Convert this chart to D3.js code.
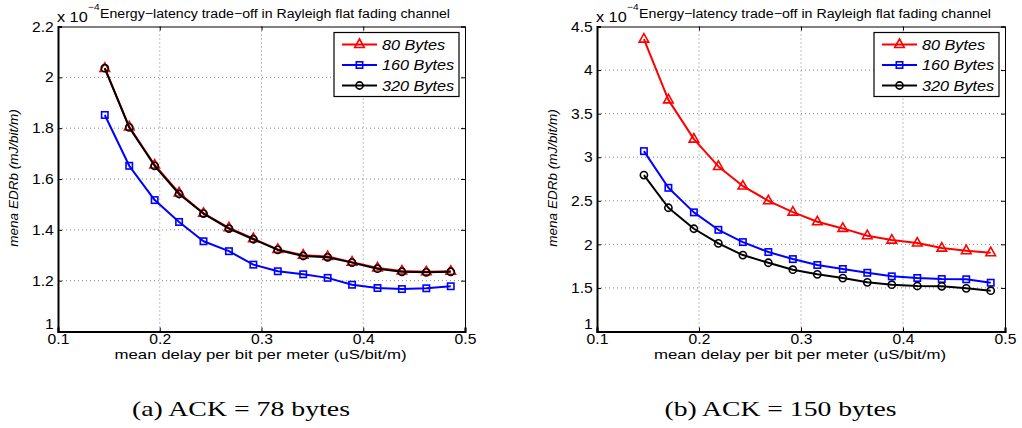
<!DOCTYPE html>
<html>
<head>
<meta charset="utf-8">
<script src="https://cdn.jsdelivr.net/npm/d3@7"></script>
<style>
  html, body { margin: 0; padding: 0; background: #fff; }
  svg { display: block; }
</style>
</head>
<body>
<svg id="chart" width="1022" height="428"></svg>
<script>
// ---------------- data ----------------
const xValues = [0.146, 0.170, 0.195, 0.219, 0.243, 0.268, 0.292, 0.316, 0.341, 0.365, 0.389, 0.414, 0.438, 0.462, 0.486];

const seriesNames = ["80 Bytes", "160 Bytes", "320 Bytes"];
const seriesColors = ["#ff0000", "#0000ff", "#000000"];
const seriesMarkers = ["triangle", "square", "circle"];

// panel (a): ACK = 78 bytes  (values x 1e-4)
const leftRed   = [2.035, 1.805, 1.655, 1.545, 1.465, 1.408, 1.365, 1.323, 1.300, 1.295, 1.273, 1.250, 1.238, 1.235, 1.237];
const leftBlue  = [1.852, 1.652, 1.517, 1.431, 1.355, 1.316, 1.263, 1.237, 1.225, 1.211, 1.184, 1.171, 1.167, 1.170, 1.178];
const leftBlack = [2.036, 1.803, 1.652, 1.541, 1.464, 1.405, 1.363, 1.321, 1.297, 1.292, 1.271, 1.247, 1.235, 1.233, 1.235];

// panel (b): ACK = 150 bytes  (values x 1e-4)
const rightRed   = [4.355, 3.658, 3.208, 2.894, 2.669, 2.500, 2.370, 2.259, 2.183, 2.099, 2.049, 2.015, 1.957, 1.927, 1.904];
const rightBlue  = [3.070, 2.649, 2.367, 2.167, 2.026, 1.912, 1.831, 1.763, 1.717, 1.674, 1.633, 1.614, 1.602, 1.599, 1.560];
const rightBlack = [2.795, 2.420, 2.179, 2.011, 1.877, 1.789, 1.709, 1.656, 1.613, 1.564, 1.537, 1.522, 1.518, 1.495, 1.468];

const xTicks = [0.1, 0.2, 0.3, 0.4, 0.5];
const xTickLabels = ["0.1", "0.2", "0.3", "0.4", "0.5"];
const leftYTicks = [1, 1.2, 1.4, 1.6, 1.8, 2, 2.2];
const leftYTickLabels = ["1", "1.2", "1.4", "1.6", "1.8", "2", "2.2"];
const rightYTicks = [1, 1.5, 2, 2.5, 3, 3.5, 4, 4.5];
const rightYTickLabels = ["1", "1.5", "2", "2.5", "3", "3.5", "4", "4.5"];

const titleText = "Energy\u2212latency trade\u2212off in Rayleigh flat fading channel";
const xLabelText = "mean delay per bit per meter (uS/bit/m)";
const yLabelText = "mena EDRb (mJ/bit/m)";
const exponentBase = "x 10";
const exponentText = "\u22124";
const captions = ["(a) ACK = 78 bytes", "(b) ACK = 150 bytes"];

// ---------------- drawing ----------------
const svg = d3.select("#chart");
const SANS = "Liberation Sans, Arial, Helvetica, sans-serif";
const SERIF = "Liberation Serif, DejaVu Serif, serif";
const SX = 1.12; // horizontal stretch of the original sans text

function sansText(parent, x, y, str, size, opts = {}) {
  const t = parent.append("g").attr("transform", `translate(${x},${y}) scale(${SX},1)`)
    .append("text").attr("x", 0).attr("y", 0)
    .attr("font-family", SANS).attr("font-size", size).attr("fill", "#000")
    .attr("text-anchor", opts.anchor || "start")
    .attr("font-style", opts.italic ? "italic" : "normal")
    .text(str);
  if (opts.dy) t.attr("dy", opts.dy);
  return t;
}

function drawPanel(opts) {
  const { left, right, top, bottom, yDomain, yTicks, yTickLabels, series, caption, titleLen, captionLen } = opts;
  const x = d3.scaleLinear().domain([0.1, 0.5]).range([left, right]);
  const y = d3.scaleLinear().domain(yDomain).range([bottom, top]);
  const g = svg.append("g");

  // grid
  const grid = g.append("g");
  grid.selectAll("line.gx").data(xTicks.filter(t => t > 0.1 && t < 0.5)).join("line")
    .attr("x1", d => x(d)).attr("x2", d => x(d)).attr("y1", top).attr("y2", bottom)
    .attr("stroke", "#666").attr("stroke-width", 0.8).attr("stroke-dasharray", "1,3");
  grid.selectAll("line.gy").data(yTicks.filter(t => t > yDomain[0] && t < yDomain[1])).join("line")
    .attr("x1", left).attr("x2", right).attr("y1", d => y(d)).attr("y2", d => y(d))
    .attr("stroke", "#666").attr("stroke-width", 0.8).attr("stroke-dasharray", "1,3");

  // axes (inward ticks)
  const axB = d3.axisBottom(x).tickValues(xTicks).tickSize(-4).tickFormat((d, i) => xTickLabels[i]).tickPadding(2);
  const axT = d3.axisTop(x).tickValues(xTicks).tickSize(-4).tickFormat("");
  const axL = d3.axisLeft(y).tickValues(yTicks).tickSize(-4).tickFormat((d, i) => yTickLabels[i]).tickPadding(4);
  const axR = d3.axisRight(y).tickValues(yTicks).tickSize(-4).tickFormat("");

  const gb = g.append("g").attr("transform", `translate(0,${bottom})`).call(axB);
  const gt = g.append("g").attr("transform", `translate(0,${top})`).call(axT);
  const gl = g.append("g").attr("transform", `translate(${left},0)`).call(axL);
  const gr = g.append("g").attr("transform", `translate(${right},0)`).call(axR);
  [gb, gt, gl, gr].forEach(a => {
    a.select(".domain").attr("stroke", "#000").attr("stroke-width", 1);
    a.selectAll(".tick line").attr("stroke", "#000").attr("stroke-width", 1);
    a.selectAll("text").attr("font-family", SANS).attr("font-size", 14.5).attr("fill", "#000")
      .attr("transform", "scale(1.08,1)");
  });
  gb.select(".domain").attr("stroke-width", 2.2);
  gl.select(".domain").attr("stroke-width", 2);
  // the bottom "1" label in the original sits slightly above the axis
  gl.selectAll(".tick").filter(d => d === yDomain[0]).select("text").attr("dy", "-0.2em");

  // series
  series.forEach((s, si) => {
    const line = d3.line().x((d, i) => x(xValues[i])).y(d => y(d));
    g.append("path").datum(s.values).attr("d", line)
      .attr("fill", "none").attr("stroke", seriesColors[si]).attr("stroke-width", 2)
      .attr("stroke-linejoin", "round");
    drawMarkers(g, s.values.map((v, i) => [x(xValues[i]), y(v)]), si);
  });

  // legend
  const lg = g.append("g");
  const lx = right - 131, ly = top + 6, lw = 125, lh = 64;
  lg.append("rect").attr("x", lx).attr("y", ly).attr("width", lw).attr("height", lh)
    .attr("fill", "#fff").attr("stroke", "#000").attr("stroke-width", 1.2);
  seriesNames.forEach((name, si) => {
    const ry = ly + 12 + si * 20.5;
    lg.append("line").attr("x1", lx + 8).attr("x2", lx + 43).attr("y1", ry).attr("y2", ry)
      .attr("stroke", seriesColors[si]).attr("stroke-width", 2);
    drawMarkers(lg, [[lx + 25.5, ry]], si);
    sansText(lg, lx + 48, ry, name, 14.5, { italic: true, dy: "0.36em" });
  });

  // exponent & title
  sansText(g, left - 1, 21.5, exponentBase, 14.5);
  sansText(g, left + 30, 9.5, exponentText, 9);
  g.append("text").attr("x", left + 42).attr("y", 18).attr("font-family", SANS).attr("font-size", 12.5)
    .attr("fill", "#000").attr("textLength", titleLen).attr("lengthAdjust", "spacingAndGlyphs")
    .text(titleText);

  // x label
  g.append("text").attr("x", (left + right) / 2 - 1).attr("y", 359).attr("text-anchor", "middle")
    .attr("font-family", SANS).attr("font-size", 13.5).attr("fill", "#000")
    .attr("textLength", 292).attr("lengthAdjust", "spacingAndGlyphs").text(xLabelText);

  // y label
  g.append("text").attr("transform", `translate(${left - 40},${(top + bottom) / 2 - 1}) rotate(-90)`)
    .attr("text-anchor", "middle").attr("font-family", SANS).attr("font-size", 13.5)
    .attr("font-style", "italic").attr("fill", "#000").text(yLabelText);

  // caption
  g.append("text").attr("x", (left + right) / 2 - 20.5).attr("y", 416).attr("text-anchor", "middle")
    .attr("font-family", SERIF).attr("font-size", 21).attr("fill", "#000")
    .attr("textLength", captionLen).attr("lengthAdjust", "spacingAndGlyphs").text(caption);
}

function drawMarkers(g, pts, si) {
  const color = seriesColors[si];
  const kind = seriesMarkers[si];
  pts.forEach(([px, py]) => {
    if (kind === "triangle") {
      g.append("path").attr("d", `M${px},${py - 5.5} L${px + 4.8},${py + 3} L${px - 4.8},${py + 3} Z`)
        .attr("fill", "none").attr("stroke", color).attr("stroke-width", 1.6);
    } else if (kind === "square") {
      g.append("rect").attr("x", px - 3.2).attr("y", py - 3.2).attr("width", 6.4).attr("height", 6.4)
        .attr("fill", "none").attr("stroke", color).attr("stroke-width", 1.6);
    } else {
      g.append("circle").attr("cx", px).attr("cy", py).attr("r", 3.6)
        .attr("fill", "none").attr("stroke", color).attr("stroke-width", 1.6);
    }
  });
}

drawPanel({
  left: 58, right: 465, top: 26.5, bottom: 331.5,
  yDomain: [1, 2.2], yTicks: leftYTicks, yTickLabels: leftYTickLabels,
  series: [{ values: leftRed }, { values: leftBlue }, { values: leftBlack }],
  caption: captions[0], titleLen: 350, captionLen: 218
});
drawPanel({
  left: 597, right: 1005, top: 26.5, bottom: 331.5,
  yDomain: [1, 4.5], yTicks: rightYTicks, yTickLabels: rightYTickLabels,
  series: [{ values: rightRed }, { values: rightBlue }, { values: rightBlack }],
  caption: captions[1], titleLen: 352, captionLen: 232
});
</script>
</body>
</html>
